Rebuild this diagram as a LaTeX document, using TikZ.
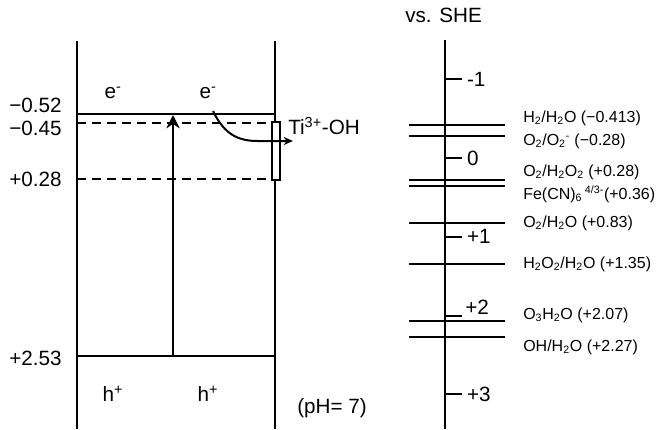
\documentclass[tikz,border=0pt]{standalone}
\usepackage{fontspec}
\setmainfont{Liberation Sans}
\usetikzlibrary{arrows.meta}
\tikzset{
  big/.style={font=\fontsize{15.5}{18}\selectfont, inner sep=0pt},
  small/.style={font=\fontsize{12}{14}\selectfont, inner sep=0pt, anchor=west},
  band/.style={line width=1.6pt},
  level/.style={line width=1.4pt, dash pattern=on 6.75pt off 4.5pt},
  couple/.style={line width=1.5pt}
}
\begin{document}
\begin{tikzpicture}[x=0.75pt,y=-0.75pt]
\useasboundingbox (0,0) rectangle (663,429);
% TiO2 band diagram
\draw[band] (77,41) -- (77,429);
\draw[band] (275,41) -- (275,429);
\draw[band] (77,114) -- (275,114);
\draw[band] (77,356) -- (275,356);
\draw[level] (77,123) -- (275,123);
\draw[level] (77,179) -- (275,179);
\node[big, anchor=west] (cb) at (9,105) {−0.52};
\node[big, anchor=west] (trap) at (9,128) {−0.45};
\node[big, anchor=west] (mid) at (9,179) {+0.28};
\node[big, anchor=west] (vb) at (9,358) {+2.53};
\node[big] (e1) at (113,93) {e\textsuperscript{-}};
\node[big] (e2) at (208,93) {e\textsuperscript{-}};
\node[big] (h1) at (113,394) {h\textsuperscript{+}};
\node[big] (h2) at (208,394) {h\textsuperscript{+}};
\node[big, anchor=west] (ph) at (297,408) {(pH= 7)};
\coordinate (exbot) at (173,356);
\coordinate (extop) at (173,115);
\draw[line width=1.5pt, -{Stealth[length=10pt,width=10pt]}] (exbot) -- (extop);
\filldraw[fill=white, draw=black, line width=1.5pt] (271.5,122) rectangle (279.5,180);
\coordinate (tistart) at (213,111);
\coordinate (tiend) at (293,141);
\draw[line width=1.5pt, -{Stealth[length=7pt,width=6pt]}] (tistart) .. controls (225,136) and (240,141) .. (258,141) -- (tiend);
\node[big, anchor=west] (ti) at (288,126) {Ti\textsuperscript{3+}-OH};
% potential scale
\node[big, anchor=west] (she) at (405,15) {vs. SHE};
\coordinate (axtop) at (445,40);
\coordinate (axbot) at (445,429);
\draw[band] (axtop) -- (axbot);
\foreach \v/\t in {-1/-1, 0/0, 1/+1, 3/+3}
  \draw[couple] (445,158+78.75*\v) -- (462,158+78.75*\v)
    node[big, anchor=west, xshift=3pt] {\t};
\draw[couple] (445,315.5) -- (462,315.5);
\node[big, anchor=west] (two) at (465,307) {+2};
\foreach \e in {-0.413,-0.28,0.28,0.36,0.83,1.35,2.07,2.27}
  \draw[couple] (409,158+78.75*\e) -- (505,158+78.75*\e);
\node[small] (r1) at (523,118) {H\textsubscript{2}/H\textsubscript{2}O (−0.413)};
\node[small] (r2) at (523,141) {O\textsubscript{2}/O\textsubscript{2}\textsuperscript{-} (−0.28)};
\node[small] (r3) at (523,172) {O\textsubscript{2}/H\textsubscript{2}O\textsubscript{2} (+0.28)};
\node[small] (r4) at (523,194) {Fe(CN)\textsubscript{6}\,\textsuperscript{4/3-}(+0.36)};
\node[small] (r5) at (523,223) {O\textsubscript{2}/H\textsubscript{2}O (+0.83)};
\node[small] (r6) at (523,264) {H\textsubscript{2}O\textsubscript{2}/H\textsubscript{2}O (+1.35)};
\node[small] (r7) at (523,315) {O\textsubscript{3}H\textsubscript{2}O (+2.07)};
\node[small] (r8) at (523,347) {OH/H\textsubscript{2}O (+2.27)};
\end{tikzpicture}
\end{document}
